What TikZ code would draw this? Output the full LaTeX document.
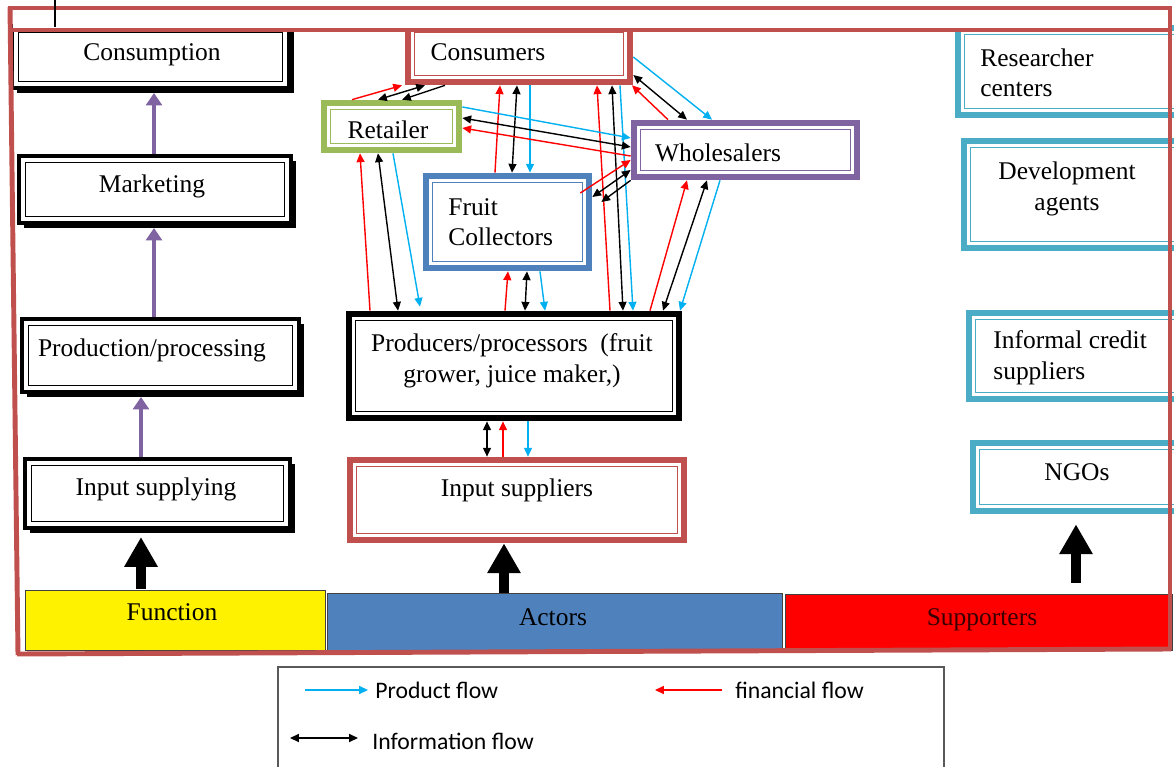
\documentclass[tikz,border=0pt]{standalone}
\usepackage{fontspec}
\setmainfont{Liberation Serif}
\newfontfamily\legendfont{Carlito}
\usetikzlibrary{arrows.meta,fit,shadows,calc}
\definecolor{framec}{HTML}{C0504D}
\definecolor{greenc}{HTML}{9BBB59}
\definecolor{purplec}{HTML}{8064A2}
\definecolor{bluec}{HTML}{4F81BD}
\definecolor{tealc}{HTML}{4BACC6}
\definecolor{cyanc}{HTML}{00B0F0}
\definecolor{redc}{HTML}{FF0000}
\definecolor{darkredtext}{HTML}{3A0000}
\begin{document}
\begin{tikzpicture}[x=0.02cm,y=-0.02cm,
  dbox/.style={draw=#1, fill=white, line width=3.8pt, inner sep=0pt,
    path picture={\draw[#1, line width=0.6pt]
      ([shift={(3.7pt,-3.7pt)}]path picture bounding box.north west) rectangle
      ([shift={(-3.7pt,3.7pt)}]path picture bounding box.south east);}},
  lbox/.style={dbox=black, line width=2.3pt,
    general shadow={fill=black, shadow xshift=3pt, shadow yshift=-3pt}},
  tbox/.style={dbox=tealc},
  bar/.style={draw=black!75, line width=0.5pt, inner sep=0pt},
  lbl/.style={font=\fontsize{14.5}{17.4}\selectfont, inner sep=0pt, text height=0.7em, text depth=0.22em, yshift=-2.2pt},
  lbltwo/.style={font=\fontsize{14.5}{17.4}\selectfont, inner sep=0pt},
  leg/.style={font=\legendfont\fontsize{13.5}{16}\selectfont, inner sep=0pt, anchor=west},
  prod/.style={draw=cyanc, line width=0.8pt, -{Triangle[length=5pt,width=4.5pt]}},
  fin/.style={draw=redc, line width=0.8pt, -{Triangle[length=5pt,width=4.5pt]}},
  info/.style={draw=black, line width=0.8pt, {Triangle[length=5pt,width=4.5pt]}-{Triangle[length=5pt,width=4.5pt]}},
  infoone/.style={draw=black, line width=0.8pt, -{Triangle[length=5pt,width=4.5pt]}},
  parrow/.style={draw=purplec, line width=2.3pt, -{Triangle[length=7pt,width=9pt]}},
  blockarrow/.style={draw=black, line width=5.7pt, -{Triangle[length=17pt,width=18pt]}},
  framepath/.style={draw=framec, line width=2.8pt},
]
\useasboundingbox (0,0) rectangle (1174,767);
\fill[white] (0,0) rectangle (1174,767);

% ---------- Function column ----------
\node[lbox, fit={(12,26) (289,88)}] (consumption) {};
\node[lbl] at (152,52) {Consumption};
\node[lbox, fit={(19,156) (291,223)}] (marketing) {};
\node[lbl] at (152,184) {Marketing};
\node[lbox, fit={(22,319) (299,392)}] (production) {};
\node[lbl] at (152,348) {Production/processing};
\node[lbox, fit={(25,459) (290,528)}] (inputsup) {};
\node[lbl] at (156,487) {Input supplying};

% ---------- Supporters column ----------
\node[tbox, fit={(958,28) (1185,115)}] (research) {};
\node[lbltwo, anchor=west, align=left] at (980,73) {Researcher\\centers};
\node[tbox, fit={(964,141) (1185,248)}] (devagents) {};
\node[lbltwo, align=center] at (1067,189) {Development\\agents};
\node[tbox, fit={(969,313) (1185,399)}] (credit) {};
\node[lbltwo, anchor=west, align=left] at (993,358) {Informal credit\\suppliers};
\node[tbox, fit={(973,443) (1185,511)}] (ngos) {};
\node[lbl] at (1077,472) {NGOs};

% ---------- Actors ----------
\node[dbox=framec, fit={(408,26) (630,82)}] (consumers) {};
\node[lbl] at (488,52) {Consumers};
\node[dbox=greenc, fit={(324,103) (459,150)}] (retailer) {};
\node[lbl] at (388,130) {Retailer};
\node[dbox=purplec, fit={(634,123) (857,177)}] (wholesalers) {};
\node[lbl] at (718,153) {Wholesalers};
\node[dbox=bluec, fit={(426,176) (589,268)}] (collectors) {};
\node[lbltwo, anchor=west, align=left] at (448,222) {Fruit\\Collectors};
\node[dbox=black, fit={(349,314) (679,418)}] (producers) {};
\node[lbltwo, align=center] at (512,361) {Producers/processors\ \ (fruit\\grower, juice maker,)};
\node[dbox=framec, fit={(350,460) (684,540)}] (inputs) {};
\node[lbl] at (517,488) {Input suppliers};

% ---------- Bottom bars ----------
\node[bar, fill=yellow, fit={(25,590) (325,650)}] (function) {};
\node[lbl] at (172,612) {Function};
\node[bar, fill=bluec, fit={(327,593) (782,650)}] (actors) {};
\node[lbl] at (553,617) {Actors};
\node[bar, fill=redc, fit={(785,594) (1172,650)}] (supporters) {};
\node[lbl, text=darkredtext] at (982,617) {Supporters};

% ---------- Frame ----------
\fill[white] (13,11) rectangle (1168,28);
\draw[framec, line width=1.8pt] (8,8) -- (1172,8);
\draw[framepath] (12,30) -- (1168,30);
\draw[framepath] (10,7) -- (18,655);
\draw[framepath] (1170,7) -- (1170,650);
\draw[framepath] (17,654) -- (1171,649);
\draw[black, line width=1.1pt] (55,0) -- (55,27);

% ---------- Function arrows ----------
\draw[parrow] (154,0 |- marketing.north) -- ($(154,0 |- consumption.south)+(0,3)$);
\draw[parrow] (154,0 |- production.north) -- ($(154,0 |- marketing.south)+(0,3)$);
\draw[parrow] (141,0 |- inputsup.north) -- ($(141,0 |- production.south)+(0,3)$);

% ---------- Block arrows ----------
\draw[blockarrow] ($(141,0 |- function.north)+(0,-1)$) -- ($(141,0 |- inputsup.south)+(0,7)$);
\draw[blockarrow] (504,0 |- actors.north) -- (504,0 |- inputs.south);
\draw[blockarrow] ($(1076,0 |- supporters.north)+(0,-11)$) -- ($(1076,0 |- ngos.south)+(0,10)$);

% ---------- Consumers links ----------
\draw[fin] (352,0 |- retailer.north) -- (402,0 |- consumers.south);
\draw[info] (378,0 |- retailer.north) -- (425,0 |- consumers.south);
\draw[infoone] (445,0 |- consumers.south) -- (402,0 |- retailer.north);
\draw[fin] (495,0 |- collectors.north) -- (500,0 |- consumers.south);
\draw[info] (517,0 |- consumers.south) -- (512,0 |- collectors.north);
\draw[prod] (530,0 |- consumers.south) -- (530,0 |- collectors.north);
\draw[fin] (610,0 |- producers.north) -- (597,0 |- consumers.south);
\draw[info] (612,0 |- consumers.south) -- (623,0 |- producers.north);
\draw[prod] (620,0 |- consumers.south) -- (633,0 |- producers.north);
\draw[fin] (668,0 |- wholesalers.north) -- (632,0 |- consumers.south);
\draw[info] (consumers.east |- 0,75) -- (687,0 |- wholesalers.north);
\draw[prod] (consumers.east |- 0,57) -- (712,0 |- wholesalers.north);

% ---------- Retailer <-> Wholesalers ----------
\draw[prod] (retailer.east |- 0,107) -- (wholesalers.west |- 0,138);
\draw[info] (retailer.east |- 0,118) -- (wholesalers.west |- 0,147);
\draw[fin] (wholesalers.west |- 0,156) -- (retailer.east |- 0,128);

% ---------- Collectors <-> Wholesalers ----------
\draw[fin] ($(collectors.east |- 0,193)+(-12,0)$) -- (wholesalers.west |- 0,160);
\draw[info] (wholesalers.west |- 0,170) -- (collectors.east |- 0,197);
\draw[infoone] (wholesalers.south west) -- ($(collectors.east |- 0,202)+(9,0)$);

% ---------- Wholesalers <-> Producers ----------
\draw[fin] (650,0 |- producers.north) -- (687,0 |- wholesalers.south);
\draw[info] (707,0 |- wholesalers.south) -- (663,0 |- producers.north);
\draw[prod] (720,0 |- wholesalers.south) -- (680,0 |- producers.north);

% ---------- Retailer <-> Producers ----------
\draw[fin] (370,0 |- producers.north) -- (360,0 |- retailer.south);
\draw[info] (378,0 |- retailer.south) -- (398,0 |- producers.north);
\draw[prod] (393,0 |- retailer.south) -- ($(420,0 |- producers.north)+(0,-4)$);

% ---------- Collectors <-> Producers ----------
\draw[fin] (505,0 |- producers.north) -- (508,0 |- collectors.south);
\draw[info] (527,0 |- collectors.south) -- (525,0 |- producers.north);
\draw[prod] (540,0 |- collectors.south) -- (545,0 |- producers.north);

% ---------- Producers <-> Input suppliers ----------
\draw[info] (487,0 |- producers.south) -- (487,0 |- inputs.north);
\draw[fin] (503,0 |- inputs.north) -- (503,0 |- producers.south);
\draw[prod] (528,0 |- producers.south) -- (528,0 |- inputs.north);

% ---------- Legend ----------
\node[draw=black!65, line width=0.6pt, inner sep=0pt, fit={(278,667) (944,790)}] (legend) {};
\coordinate (lpa) at (305,690); \coordinate (lpb) at (368,690);
\coordinate (lfa) at (722,690); \coordinate (lfb) at (655,690);
\coordinate (lia) at (290,738); \coordinate (lib) at (358,738);
\draw[prod] (lpa) -- (lpb);
\draw[fin] (lfa) -- (lfb);
\draw[info] (lia) -- (lib);
\node[leg] at (375,690) {Product flow};
\node[leg] at (735,690) {financial flow};
\node[leg] at (372,741) {Information flow};
\end{tikzpicture}
\end{document}
